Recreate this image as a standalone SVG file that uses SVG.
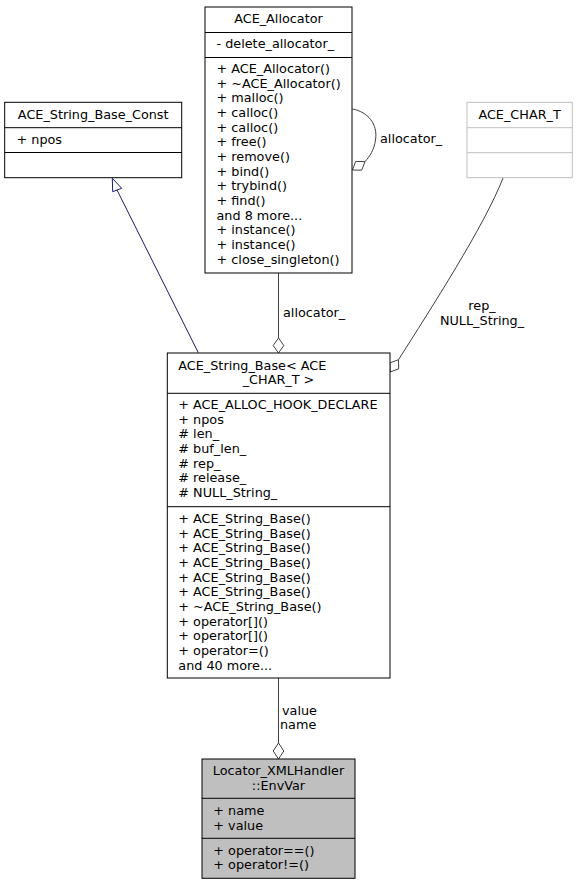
<svg xmlns="http://www.w3.org/2000/svg" width="577" height="885" viewBox="0 0 577 885">
<style>
text{font-family:"DejaVu Sans","Liberation Sans",sans-serif;font-size:12.8px;fill:#000}
.c{text-anchor:middle}
.box{fill:#fff;stroke:#000;stroke-width:1}
.gbox{fill:#fff;stroke:#bfbfbf;stroke-width:1}
.hl{fill:#bfbfbf;stroke:#000;stroke-width:1}
.sep{stroke:#000;stroke-width:1}
.gsep{stroke:#bfbfbf;stroke-width:1}
.edge{fill:none;stroke:#404040;stroke-width:1}
.dia{fill:#fff;stroke:#404040;stroke-width:1}
.inh{fill:none;stroke:#191970;stroke-width:1}
.tri{fill:#fff;stroke:#191970;stroke-width:1}
</style>
<rect width="577" height="885" fill="#fff"/>
<g id="connectors">
  <path class="inh" d="M198.3,352.7 L117,190"/>
  <polygon class="tri" points="112.3,178.3 112.7,191.7 121.7,188.3"/>
  <path class="edge" d="M278.5,273 L278.5,338"/>
  <polygon class="dia" points="278.5,353 273.2,345.5 278.5,338 283.8,345.5"/>
  <text x="283" y="317">allocator_</text>
  <path class="edge" d="M352.5,109 C368,112 378,124 375.5,140 C374,150 370,156 365,161.6"/>
  <polygon class="dia" points="352.5,170 355.7,161.4 365,161.6 361.7,170.2"/>
  <text x="380" y="143">allocator_</text>
  <path class="edge" d="M503,178 C485,225 430,310 398.5,359.7"/>
  <polygon class="dia" points="390,372 389.9,362.9 398.5,359.7 398.7,368.9"/>
  <text class="c" x="482" y="309.5">rep_</text>
  <text class="c" x="482" y="324.5">NULL_String_</text>
  <path class="edge" d="M278.5,678 L278.5,743"/>
  <polygon class="dia" points="278.5,759 273.2,751 278.5,743 283.8,751"/>
  <text x="282" y="715">value</text>
  <text x="280" y="729">name</text>
</g>
<g id="ACE_Allocator">
  <rect class="box" x="205" y="7" width="147" height="266"/>
  <line class="sep" x1="205" y1="32.5" x2="352" y2="32.5"/>
  <line class="sep" x1="205" y1="57.5" x2="352" y2="57.5"/>
  <text class="c" x="278.5" y="23">ACE_Allocator</text>
  <text x="216.5" y="48">- delete_allocator_</text>
  <text x="216.5" y="73">+ ACE_Allocator()</text>
  <text x="216.5" y="87.7">+ ~ACE_Allocator()</text>
  <text x="216.5" y="102.3">+ malloc()</text>
  <text x="216.5" y="117">+ calloc()</text>
  <text x="216.5" y="131.7">+ calloc()</text>
  <text x="216.5" y="146.3">+ free()</text>
  <text x="216.5" y="161">+ remove()</text>
  <text x="216.5" y="175.7">+ bind()</text>
  <text x="216.5" y="190.3">+ trybind()</text>
  <text x="216.5" y="205">+ find()</text>
  <text x="216.5" y="219.7">and 8 more...</text>
  <text x="216.5" y="234.3">+ instance()</text>
  <text x="216.5" y="249">+ instance()</text>
  <text x="216.5" y="263.7">+ close_singleton()</text>
</g>
<g id="ACE_String_Base_Const">
  <rect class="box" x="4.7" y="102.3" width="177" height="75.4"/>
  <line class="sep" x1="4.7" y1="127.7" x2="181.7" y2="127.7"/>
  <line class="sep" x1="4.7" y1="152.5" x2="181.7" y2="152.5"/>
  <text class="c" x="93.2" y="118.5">ACE_String_Base_Const</text>
  <text x="16.5" y="143.5">+ npos</text>
</g>
<g id="ACE_CHAR_T">
  <rect class="gbox" x="467" y="102.3" width="105.3" height="75.4"/>
  <line class="gsep" x1="467" y1="127.7" x2="572.3" y2="127.7"/>
  <line class="gsep" x1="467" y1="152.7" x2="572.3" y2="152.7"/>
  <text class="c" x="519.6" y="118.5">ACE_CHAR_T</text>
</g>
<g id="ACE_String_Base">
  <rect class="box" x="167.3" y="353" width="222.7" height="325"/>
  <line class="sep" x1="167.3" y1="393.3" x2="390" y2="393.3"/>
  <line class="sep" x1="167.3" y1="506.7" x2="390" y2="506.7"/>
  <text x="178.3" y="369.5">ACE_String_Base&lt; ACE</text>
  <text class="c" x="278.5" y="384">_CHAR_T &gt;</text>
  <text x="178.3" y="409">+ ACE_ALLOC_HOOK_DECLARE</text>
  <text x="178.3" y="423.7">+ npos</text>
  <text x="178.3" y="438.3"># len_</text>
  <text x="178.3" y="453"># buf_len_</text>
  <text x="178.3" y="467.7"># rep_</text>
  <text x="178.3" y="482.3"># release_</text>
  <text x="178.3" y="497"># NULL_String_</text>
  <text x="178.3" y="522.8">+ ACE_String_Base()</text>
  <text x="178.3" y="537.5">+ ACE_String_Base()</text>
  <text x="178.3" y="552.1">+ ACE_String_Base()</text>
  <text x="178.3" y="566.8">+ ACE_String_Base()</text>
  <text x="178.3" y="581.5">+ ACE_String_Base()</text>
  <text x="178.3" y="596.1">+ ACE_String_Base()</text>
  <text x="178.3" y="610.8">+ ~ACE_String_Base()</text>
  <text x="178.3" y="625.5">+ operator[]()</text>
  <text x="178.3" y="640.1">+ operator[]()</text>
  <text x="178.3" y="654.8">+ operator=()</text>
  <text x="178.3" y="669.5">and 40 more...</text>
</g>
<g id="EnvVar">
  <rect class="hl" x="202" y="759" width="153" height="119.3"/>
  <line class="sep" x1="202" y1="798.3" x2="355" y2="798.3"/>
  <line class="sep" x1="202" y1="838.3" x2="355" y2="838.3"/>
  <text class="c" x="278.5" y="775">Locator_XMLHandler</text>
  <text class="c" x="278.5" y="790">::EnvVar</text>
  <text x="213.3" y="815">+ name</text>
  <text x="213.3" y="829.5">+ value</text>
  <text x="213.3" y="855">+ operator==()</text>
  <text x="213.3" y="869">+ operator!=()</text>
</g>
</svg>
